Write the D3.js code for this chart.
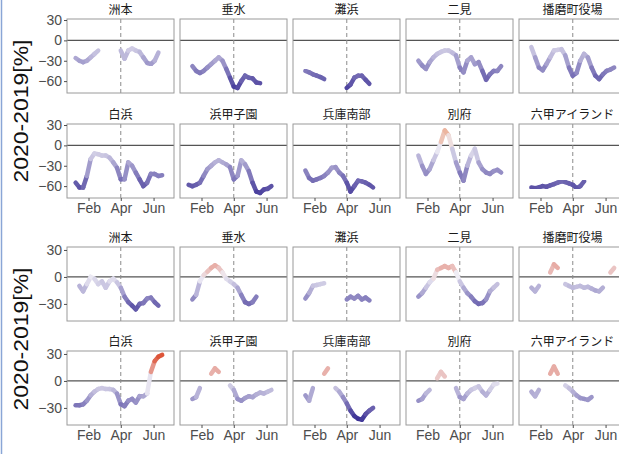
<!DOCTYPE html>
<html>
<head>
<meta charset="utf-8">
<script src="https://cdn.jsdelivr.net/npm/d3@7"></script>
<style>
  body { margin: 0; background: #fff; }
  svg { display: block; }
</style>
</head>
<body>
<div id="chart"></div>
<script>
// weekly sample dates (x positions of the values below)
const dates = ['2020-01-01','2020-01-08','2020-01-15','2020-01-22','2020-01-29','2020-02-05','2020-02-12',
  '2020-02-19','2020-02-26','2020-03-04','2020-03-11','2020-03-18','2020-03-25','2020-04-01','2020-04-08',
  '2020-04-15','2020-04-22','2020-04-29','2020-05-06','2020-05-13','2020-05-20','2020-05-27','2020-06-03',
  '2020-06-10','2020-06-17','2020-06-24','2020-07-01']

const stations = ['洲本', '垂水', '灘浜', '二見', '播磨町役場', '白浜', '浜甲子園', '兵庫南部', '別府', '六甲アイランド']

const monthTicks = ['2020-02-01', '2020-04-01', '2020-06-01']
const monthLabels = ['Feb', 'Apr', 'Jun']
const upperTicks = [30, 0, -30, -60]
const lowerTicks = [30, 0, -30]
const yTitle = '2020-2019[%]'

const _ = null
// upper block, one row per station (same order as stations)
const upperValues = [
  [_, -26, -30, -32, -30, -25, -20, -15, _, _, _, _, _, -15, -27, -15, -12, -15, -17, -25, -33, -35, -30, -18, _, _, _],
  [_, _, -38, -45, -48, -45, -40, -35, -30, -25, -30, -42, -55, -68, -70, -60, -52, -55, -56, -62, -63, _, _, _, _, _, _],
  [_, _, -45, -47, -50, -52, -54, -57, _, _, _, _, _, -70, -65, -55, -52, -52, -58, -64, _, _, _, _, _, _, _],
  [_, _, -30, -37, -42, -32, -25, -20, -17, -15, -15, -18, -22, -40, -47, -30, -25, -35, -32, -45, -58, -50, -45, -45, -38, _, _],
  [_, _, -10, -25, -40, -44, -35, -25, -15, -14, -13, -22, -40, -52, -48, -30, -20, -25, -40, -52, -57, -50, -45, -43, -40, _, _],
  [_, -55, -62, -62, -45, -20, -12, -13, -15, -15, -18, -25, -33, -50, -50, -25, -30, -40, -50, -60, -55, -42, -42, -45, -44, _, _],
  [_, -58, -60, -58, -55, -45, -35, -30, -25, -22, -25, -28, -32, -50, -45, -22, -28, -38, -55, -68, -70, -65, -64, -60, _, _, _],
  [_, _, -37, -48, -52, -50, -48, -45, -40, -33, -32, -40, -45, -55, -68, -60, -52, -53, -55, -58, -62, _, _, _, _, _, _],
  [_, _, -15, -30, -42, -35, -22, -10, 5, 22, 15, -5, -25, -40, -52, -30, -15, -5, -25, -35, -40, -42, -38, -36, -40, _, _],
  [_, _, -62, -63, -62, -60, -61, -59, -57, -55, -53, -54, -56, -58, -63, -60, -53, _, _, _, _, _, _, _, _, _, _]
]

// lower block
const lowerValues = [
  [_, _, -10, -16, -8, 0, -2, -8, -5, -12, -5, -2, -6, -12, -22, -28, -32, -36, -30, -29, -24, -23, -28, -32, _, _, _],
  [_, _, -25, -20, -5, 2, 6, 10, 13, 10, 5, -2, -5, -8, -12, -20, -28, -30, -28, -22, _, _, _, _, _, _, _],
  [_, _, -24, -18, -10, -9, -8, -7, _, _, _, _, _, -25, -22, -24, -21, -25, -23, -26, _, _, _, _, _, _, _],
  [_, _, -22, -18, -12, -6, -2, 8, 10, 12, 10, 12, 5, -5, -12, -18, -22, -27, -30, -29, -25, -16, -12, -8, _, _, _],
  [_, _, -12, -16, -10, _, _, 5, 14, 10, _, -8, -10, -12, -11, -10, -12, -11, -13, -15, -16, -12, _, 5, 10, _, _],
  [_, -27, -27, -26, -22, -16, -12, -9, -8, -9, -9, -10, -14, -26, -28, -22, -20, -24, -17, -17, -14, 10, 22, 27, 29, _, _],
  [_, _, -20, -18, -8, _, _, 8, 14, 10, _, _, -5, -10, -20, -22, -19, -17, -18, -15, -13, -14, -12, -10, _, _, _],
  [_, _, -16, -22, -8, _, _, 8, 14, _, -8, -12, -18, -25, -33, -39, -42, -43, -37, -33, -30, _, _, _, _, _, _],
  [_, _, -22, -20, -14, -10, _, 3, 10, 5, _, _, -8, -18, -20, -14, -10, -8, -6, -12, -16, -10, -4, -3, _, _, _],
  [_, _, -12, -17, -10, _, _, 8, 16, 8, _, -5, -8, -12, -16, -19, -20, -21, -18, _, _, _, _, _, _, _, _]
]

const W = 619, H = 454
const panelW = 107, panelH = 74
const colLeft = [67, 180, 293, 406, 519]
const rowTop = [19, 124, 247, 351]

const parse = d3.timeParse('%Y-%m-%d')
const dateObjs = dates.map(parse)

const svg = d3.select('#chart').append('svg')
  .attr('width', W)
  .attr('height', H)

svg.append('rect').attr('width', W).attr('height', H).attr('fill', '#fff')

// soft edge on the thick lines, the source is a slightly blurry raster
svg.append('defs').append('filter')
  .attr('id', 'soft')
  .append('feGaussianBlur').attr('stdDeviation', 0.6)

// thin blue frame line on the left edge
svg.append('line')
  .attr('x1', 1.5).attr('x2', 1.5).attr('y1', 0).attr('y2', H)
  .attr('stroke', '#8aa6d6').attr('stroke-width', 1.5)

const x = d3.scaleTime()
  .domain([parse('2019-12-23'), parse('2020-07-09')])
  .range([0, panelW])

const yUpper = d3.scaleLinear().domain([-77.5, 31.5]).range([panelH, 0])
const yLower = d3.scaleLinear().domain([-49, 33.3]).range([panelH, 0])

const colorUpper = d3.scaleLinear().domain([-75, 0, 40]).range(['#3d3296', '#efedf5', '#e8743a']).clamp(true)
const colorLower = d3.scaleLinear().domain([-42, 0, 30]).range(['#3d3296', '#efedf5', '#dc4a2c']).clamp(true)

const tickFont = '"Liberation Sans", Arial, sans-serif'

function drawBlock(values, y, color, ticks, rowOffset, titleY) {
  values.forEach((series, i) => {
    const r = rowOffset + Math.floor(i / 5)
    const c = i % 5
    const g = svg.append('g').attr('transform', `translate(${colLeft[c]},${rowTop[r]})`)
    const bottomRow = (i >= 5)

    // strip title
    g.append('text')
      .attr('x', panelW / 2)
      .attr('y', -5)
      .attr('text-anchor', 'middle')
      .attr('font-family', '"Noto Sans CJK JP", sans-serif')
      .attr('font-size', '12px')
      .attr('fill', '#1a1a1a')
      .text(stations[i])

    g.append('rect')
      .attr('width', panelW).attr('height', panelH)
      .attr('fill', '#fff')

    // zero line
    g.append('line')
      .attr('x1', 0).attr('x2', panelW)
      .attr('y1', y(0)).attr('y2', y(0))
      .attr('stroke', '#555').attr('stroke-width', 1.3)

    // April 1 marker
    const xa = x(parse('2020-04-01'))
    g.append('line')
      .attr('x1', xa).attr('x2', xa)
      .attr('y1', 0).attr('y2', panelH)
      .attr('stroke', '#8c8c8c').attr('stroke-width', 1)
      .attr('stroke-dasharray', '4,3')

    const segs = []
    for (let k = 0; k < series.length - 1; k++) {
      const a = series[k], b = series[k + 1]
      if (a === null || b === null) continue
      segs.push({ x1: dateObjs[k], x2: dateObjs[k + 1], a, b })
    }
    // single isolated points
    const dots = series.map((v, k) => ({ v, k }))
      .filter(d => d.v !== null && (d.k === 0 || series[d.k - 1] === null) && (series[d.k + 1] === null || series[d.k + 1] === undefined))

    const lines = g.append('g').attr('filter', 'url(#soft)')
    lines.selectAll('line')
      .data(segs)
      .join('line')
      .attr('x1', d => x(d.x1)).attr('x2', d => x(d.x2))
      .attr('y1', d => y(d.a)).attr('y2', d => y(d.b))
      .attr('stroke', d => color((d.a + d.b) / 2))
      .attr('stroke-width', 4.5)
      .attr('stroke-linecap', 'round')
    lines.selectAll('circle')
      .data(dots)
      .join('circle')
      .attr('cx', d => x(dateObjs[d.k]))
      .attr('cy', d => y(d.v))
      .attr('r', 2.5)
      .attr('fill', d => color(d.v))

    // panel border
    g.append('rect')
      .attr('width', panelW).attr('height', panelH)
      .attr('fill', 'none')
      .attr('stroke', '#9a9a9a').attr('stroke-width', 1)

    if (c === 0) {
      const ax = g.append('g')
        .call(d3.axisLeft(y).tickValues(ticks).tickSize(3).tickPadding(2))
      ax.select('.domain').remove()
      ax.selectAll('line').attr('stroke', '#4d4d4d')
      ax.selectAll('text')
        .attr('font-family', tickFont)
        .attr('font-size', '14px')
        .attr('fill', '#4d4d4d')
    }
    if (bottomRow) {
      const ax = g.append('g')
        .attr('transform', `translate(0,${panelH})`)
        .call(d3.axisBottom(x).tickValues(monthTicks.map(parse)).tickSize(3).tickPadding(2)
          .tickFormat((d, j) => monthLabels[j]))
      ax.select('.domain').remove()
      ax.selectAll('line').attr('stroke', '#4d4d4d')
      ax.selectAll('text')
        .attr('font-family', tickFont)
        .attr('font-size', '14px')
        .attr('fill', '#4d4d4d')
    }
  })

  svg.append('text')
    .attr('transform', `translate(28,${titleY}) rotate(-90)`)
    .attr('text-anchor', 'middle')
    .attr('font-family', tickFont)
    .attr('font-size', '21px')
    .attr('textLength', 143)
    .attr('lengthAdjust', 'spacingAndGlyphs')
    .attr('fill', '#111')
    .text(yTitle)
}

drawBlock(upperValues, yUpper, colorUpper, upperTicks, 0, 111)
drawBlock(lowerValues, yLower, colorLower, lowerTicks, 2, 339)
</script>
</body>
</html>
